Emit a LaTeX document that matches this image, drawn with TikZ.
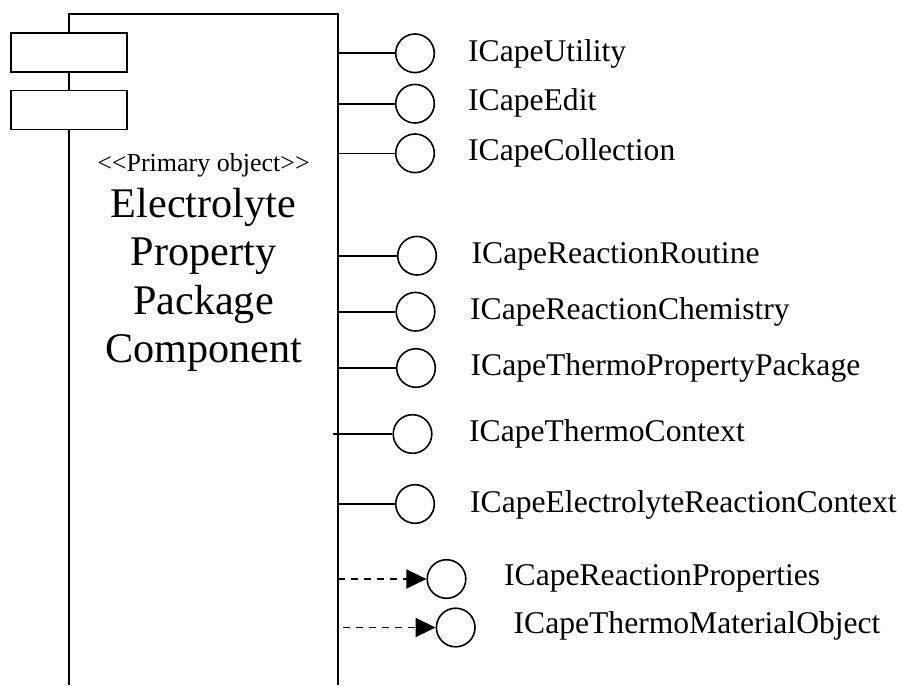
\documentclass[tikz,border=0pt]{standalone}
\usepackage{fontspec}
\setmainfont{Liberation Serif}
\usetikzlibrary{arrows.meta}
\begin{document}
\begin{tikzpicture}[x=1pt,y=-1pt,
  wire/.style={line width=1.6pt},
  port/.style={circle,draw,line width=1.6pt,minimum size=38.6pt,inner sep=0pt},
  tab/.style={draw,fill=white,line width=1.6pt,minimum width=116pt,minimum height=39pt,inner sep=0pt},
  iname/.style={anchor=base west,inner sep=0pt,font=\fontsize{31.6}{36}\selectfont},
  dep/.style={line width=1.6pt,dash pattern=on 7pt off 6pt,-{Triangle[length=20pt,width=19pt]}}
]
\useasboundingbox (0,0) rectangle (904,685);

% component body, open at the bottom
\coordinate (bl) at (69,685);
\coordinate (tl) at (69,14);
\coordinate (tr) at (338,14);
\coordinate (br) at (338,685);
\draw[wire] (bl) -- (tl) -- (tr) -- (br);

% component tabs
\node[tab] (tab1) at (69,52.5) {};
\node[tab] (tab2) at (69,110) {};

% stereotype and component name (base anchor sits on the last line)
\node[anchor=base,inner sep=0pt,font=\fontsize{26}{30}\selectfont] (stereo) at (203.5,171.7) {<{}<Primary object>{}>};
\node[anchor=base,align=center,inner sep=0pt,font=\fontsize{42.2}{48.5}\selectfont] (cname) at (203.5,362.7) {Electrolyte\\Property\\Package\\Component};

% provided interfaces
\coordinate (s1) at (338,53.3);
\coordinate (s2) at (338,103.7);
\coordinate (s3) at (338,153.3);
\coordinate (s4) at (338,255.7);
\coordinate (s5) at (338,311.7);
\coordinate (s6) at (338,368);
\coordinate (s7) at (333,434);
\coordinate (s8) at (338,504);
\coordinate (s9) at (338,579);
\coordinate (s10) at (343,627.5);

\node[port] (i1) at (415,53.3) {};
\node[port] (i2) at (415,103.7) {};
\node[port] (i3) at (415,153.3) {};
\node[port] (i4) at (417,255.7) {};
\node[port] (i5) at (415.5,311.7) {};
\node[port] (i6) at (416,368) {};
\node[port] (i7) at (412.5,434) {};
\node[port] (i8) at (415,504) {};
\node[port] (i9) at (446.5,579) {};
\node[port] (i10) at (455.7,627.5) {};

\draw[wire] (s1) -- (i1);
\draw[wire] (s2) -- (i2);
\draw[wire] (s3) -- (i3);
\draw[wire] (s4) -- (i4);
\draw[wire] (s5) -- (i5);
\draw[wire] (s6) -- (i6);
\draw[wire] (s7) -- (i7);
\draw[wire] (s8) -- (i8);

% required interfaces
\draw[dep] (s9) -- (i9);
\draw[dep] (s10) -- (i10);

% interface names
\node[iname] (l1) at (468,61.7) {ICapeUtility};
\node[iname] (l2) at (468,110.7) {ICapeEdit};
\node[iname] (l3) at (468,160.3) {ICapeCollection};
\node[iname] (l4) at (471.5,263.5) {ICapeReactionRoutine};
\node[iname] (l5) at (470,319) {ICapeReactionChemistry};
\node[iname] (l6) at (470.5,375.5) {ICapeThermoPropertyPackage};
\node[iname] (l7) at (469,441.5) {ICapeThermoContext};
\node[iname] (l8) at (470,512.5) {ICapeElectrolyteReactionContext};
\node[iname] (l9) at (504,585) {ICapeReactionProperties};
\node[iname] (l10) at (513.5,633.3) {ICapeThermoMaterialObject};
\end{tikzpicture}
\end{document}
